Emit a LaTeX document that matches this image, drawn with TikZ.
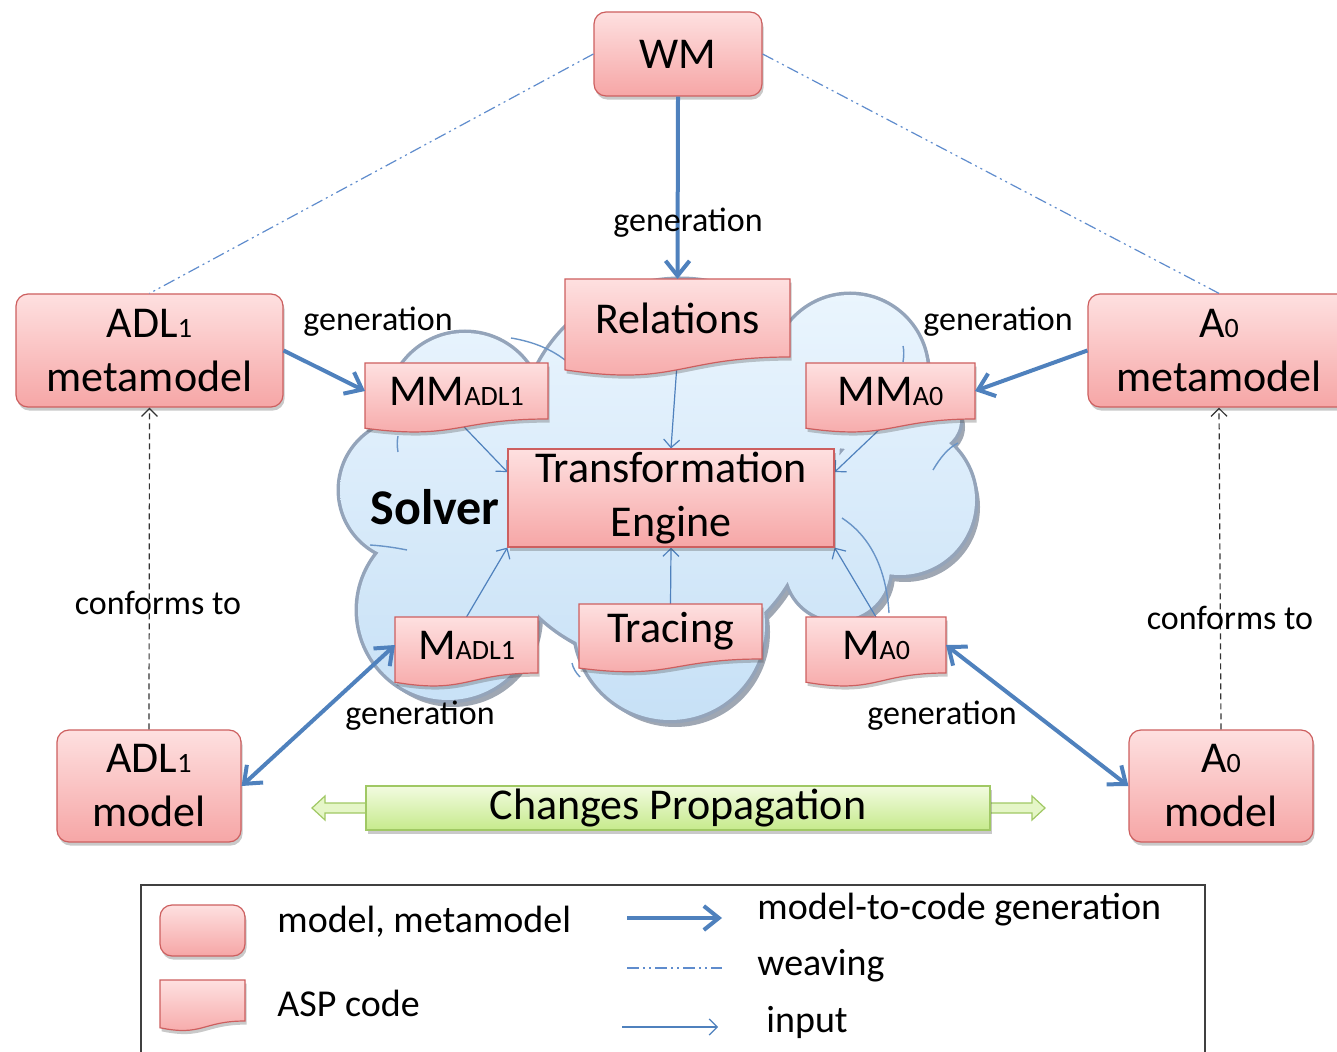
\documentclass[tikz,border=0pt]{standalone}
\usepackage{fontspec}
\setmainfont{Carlito}
\usetikzlibrary{arrows.meta,calc,shadows}

\definecolor{pinktop}{RGB}{254,224,224}
\definecolor{pinkbot}{RGB}{246,166,166}
\definecolor{boxline}{RGB}{205,95,95}
\definecolor{linkblue}{RGB}{79,129,189}
\definecolor{weaveblue}{RGB}{95,140,205}
\definecolor{cloudtop}{RGB}{236,246,254}
\definecolor{cloudbot}{RGB}{198,224,246}
\definecolor{cloudedge}{RGB}{148,164,186}
\definecolor{cloudshade}{RGB}{95,108,128}
\definecolor{greentop}{RGB}{242,251,224}
\definecolor{greenbot}{RGB}{198,234,140}
\definecolor{greenline}{RGB}{160,200,100}

\newcommand\bigsize{\fontsize{22}{27}\selectfont}
\newcommand\lowtxt[1]{{\fontsize{14}{14}\selectfont #1}}

\pgfdeclarelayer{cloudlayer}
\pgfdeclarelayer{inputlayer}
\pgfsetlayers{cloudlayer,inputlayer,main}

\tikzset{
  boxshadow/.style={drop shadow={shadow xshift=0.8pt,shadow yshift=-1.8pt,opacity=0.3,fill=black!70}},
  mbox/.style={draw=boxline, line width=0.6pt, rounded corners=6pt,
    top color=pinktop, bottom color=pinkbot, boxshadow,
    align=center, font=\bigsize, inner sep=0pt},
  tebox/.style={mbox, rounded corners=0pt},
  aspnode/.style={inner sep=0pt, outer sep=0pt},
  aspshape/.style={draw=boxline, line width=0.6pt, top color=pinktop, bottom color=pinkbot, boxshadow},
  asptext/.style={font=\bigsize, inner sep=0pt},
  lbl/.style={font=\fontsize{17}{17}\selectfont, inner sep=1pt},
  legendtxt/.style={font=\fontsize{19}{19}\selectfont, inner sep=0pt, anchor=west},
  genarrow/.style={draw=linkblue, line width=2pt, -{Straight Barb[length=7.5pt,width=12pt]}},
  genboth/.style={draw=linkblue, line width=2pt, {Straight Barb[length=7.5pt,width=12pt]}-{Straight Barb[length=7.5pt,width=12pt]}},
  inarrow/.style={draw=linkblue, line width=0.6pt, -{Straight Barb[length=4pt,width=8pt]}},
  weave/.style={draw=weaveblue, line width=0.6pt, dash pattern=on 6pt off 2pt on 1pt off 2pt on 1pt off 2pt},
  conform/.style={draw=black!80, line width=0.6pt, dash pattern=on 3pt off 2pt, -{Straight Barb[length=4pt,width=8pt]}},
  cloudarc/.style={draw=linkblue!85, line width=0.7pt},
  cpbox/.style={draw=greenline, line width=0.6pt, top color=greentop, bottom color=greenbot, boxshadow, font=\bigsize, inner sep=0pt},
  cparrow/.style={draw=greenline, line width=0.6pt, fill=greentop!70!greenbot},
}

% ASP code box: a rectangle with the wavy "document" bottom
\newcommand\aspbox[5]{%
  \node[aspnode, minimum width=#3, minimum height=#4] (#1) at #2 {};
  \path[aspshape] let \p1=(#1.north west), \p2=(#1.south east),
      \n1={\y1-\y2}, \n2={(\x1+\x2)/2} in
    (\p1) -- (\x2,\y1) -- (\p2)
    .. controls (\n2,\y2) and (\n2,\y2-0.381*\n1) .. (\x1,\y2-0.165*\n1) -- cycle;
  \node[asptext] (#1-t) at (#1) {#5};
}

% puffs of the solver cloud
\newcommand\cloudpuffs{
  (465,410) circle[radius=38.5pt]
  (680,440) circle[radius=80pt]
  (850,372) circle[radius=38.5pt]
  (930,420) circle[radius=15pt]
  (900,500) circle[radius=37.5pt]
  (838,568) circle[radius=26pt]
  (670,625) circle[radius=47.5pt]
  (448,610) circle[radius=45pt]
  (410,490) circle[radius=35pt]
  (520,490) circle[radius=30pt]
  (650,500) circle[radius=80pt]
}

\begin{document}
\begin{tikzpicture}[x=0.5pt,y=-0.5pt]
\useasboundingbox (0,0) rectangle (1337,1052);

% ---------- cloud ----------
\begin{pgfonlayer}{cloudlayer}
  \fill[cloudshade, opacity=0.6, xshift=2.5pt, yshift=-3.5pt] \cloudpuffs;
  \draw[cloudedge, line width=3.5pt] \cloudpuffs;
  \begin{scope}
    \clip \cloudpuffs;
    \shade[top color=cloudtop, bottom color=cloudbot] (320,270) rectangle (990,730);
  \end{scope}
  \draw[cloudarc] (842,518) .. controls (868,535) and (886,565) .. (889,613);
  \draw[cloudarc] (933,470) .. controls (940,458) and (948,448) .. (958,443);
  \draw[cloudarc] (370,545) .. controls (385,546) and (397,548) .. (407,550);
  \draw[cloudarc] (398,452) .. controls (397,446) and (397,441) .. (398,436);
  \draw[cloudarc] (903,346) .. controls (904,350) and (904,356) .. (903,362);
  \draw[cloudarc] (511,338) .. controls (535,342) and (552,350) .. (565,360);
  \draw[cloudarc] (572,663) .. controls (573,668) and (576,673) .. (580,677);
\end{pgfonlayer}

\node[font=\fontsize{25}{25}\selectfont\bfseries, inner sep=0pt] (solver) at (435,507) {Solver};

% ---------- models and metamodels ----------
\node[mbox, minimum width=84pt, minimum height=42pt] (wm) at (678,54) {WM};
\node[mbox, minimum width=133.5pt, minimum height=56.5pt] (adlmm) at (149.5,350.5) {ADL\lowtxt{1}\\metamodel};
\node[mbox, minimum width=131pt, minimum height=56.5pt] (a0mm) at (1219,350.5) {A\lowtxt{0}\\metamodel};
\node[mbox, minimum width=92pt, minimum height=56pt] (adlmod) at (149,786) {ADL\lowtxt{1}\\model};
\node[mbox, minimum width=92pt, minimum height=56pt] (a0mod) at (1221,786) {A\lowtxt{0}\\model};

% ---------- ASP code ----------
\aspbox{rel}{(677.5,318)}{112.5pt}{39pt}{Relations}
\aspbox{mmadl}{(456.5,391)}{91.5pt}{28pt}{MM\lowtxt{ADL1}}
\aspbox{mma}{(890.5,391)}{84.5pt}{28pt}{MM\lowtxt{A0}}
\aspbox{madl}{(466.5,645)}{71.5pt}{28pt}{M\lowtxt{ADL1}}
\aspbox{trc}{(670.5,631.5)}{91.5pt}{27.5pt}{Tracing}
\aspbox{ma}{(876,645)}{70pt}{28pt}{M\lowtxt{A0}}

\node[tebox, minimum width=163pt, minimum height=49pt] (te) at (671,498) {Transformation\\Engine};

% ---------- inputs of the engine ----------
\begin{pgfonlayer}{inputlayer}
  \draw[inarrow] (rel.south) -- (te.north);
  \draw[inarrow] (mmadl.south) -- (te.171);
  \draw[inarrow] (mma.south) -- (te.9);
  \draw[inarrow] (madl.north) -- (te.south west);
  \draw[inarrow] (trc.north) -- (te.south);
  \draw[inarrow] (ma.north) -- (te.south east);
\end{pgfonlayer}

% ---------- generation, weaving, conformance ----------
\draw[genarrow] (wm.south) -- (rel.north);
\draw[genarrow] (adlmm.east) -- (mmadl.west);
\draw[genarrow] (a0mm.west) -- (mma.east);
\draw[genboth] (adlmod.east) -- (madl.west);
\draw[genboth] (a0mod.west) -- (ma.east);
\draw[weave] (wm.west) -- (adlmm.north);
\draw[weave] (wm.east) -- (a0mm.north);
\draw[conform] (adlmod.north) -- (adlmm.south);
\draw[conform] (a0mod.north) -- (a0mm.south);

\node[lbl] (g1) at (688,223) {generation};
\node[lbl] (g2) at (378,322) {generation};
\node[lbl] (g3) at (998,322) {generation};
\node[lbl] (g4) at (420,716) {generation};
\node[lbl] (g5) at (942,716) {generation};
\node[lbl] (c1) at (158,603) {conforms to};
\node[lbl] (c2) at (1230,618) {conforms to};

% ---------- changes propagation ----------
\coordinate (cpl) at (312,808);
\coordinate (cpr) at (1045,808);
\path[cparrow] (cpl) -- ++(13,-12) -- ++(0,7) -- ++(41,0) -- ++(0,10) -- ++(-41,0) -- ++(0,7) -- cycle;
\path[cparrow] (cpr) -- ++(-13,-12) -- ++(0,7) -- ++(-42,0) -- ++(0,10) -- ++(42,0) -- ++(0,7) -- cycle;
\node[cpbox, minimum width=312pt, minimum height=22pt] (cp) at (678,808) {Changes Propagation};

% ---------- legend ----------
\draw[black!75, line width=0.8pt] (141,1052) -- (141,885) -- (1205,885) -- (1205,1052);
\node[mbox, minimum width=42.5pt, minimum height=25.5pt] (lgm) at (202.5,930.5) {};
\aspbox{lga}{(202.5,1000.5)}{42.5pt}{20.5pt}{}
\node[legendtxt] (lt1) at (277,922) {model, metamodel};
\node[legendtxt] (lt2) at (277,1003) {ASP code};
\coordinate (la1) at (627,918);  \coordinate (lb1) at (722,918);
\coordinate (la2) at (627,968);  \coordinate (lb2) at (722,968);
\coordinate (la3) at (622,1027); \coordinate (lb3) at (718,1027);
\draw[genarrow] (la1) -- (lb1);
\draw[weave] (la2) -- (lb2);
\draw[inarrow] (la3) -- (lb3);
\node[legendtxt] (lt3) at (757,910) {model-to-code generation};
\node[legendtxt] (lt4) at (757,966) {weaving};
\node[legendtxt] (lt5) at (766,1022) {input};
\end{tikzpicture}
\end{document}
